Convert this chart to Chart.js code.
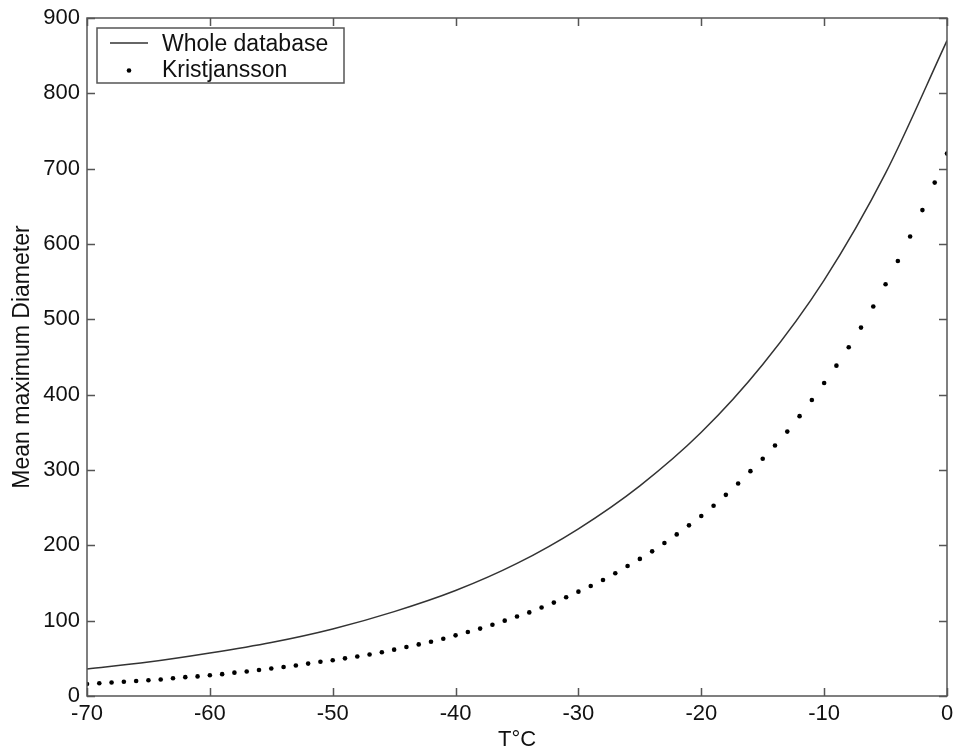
<!DOCTYPE html>
<html>
<head>
<meta charset="utf-8">
<title>Mean maximum Diameter vs T°C</title>
<script src="https://cdn.jsdelivr.net/npm/chart.js@4/dist/chart.umd.min.js"></script>
<style>
    html, body { margin: 0; padding: 0; background: #fff; }
    #wrap { width: 954px; height: 755px; }
</style>
</head>
<body>
<div id="wrap"><canvas id="diamChart" width="954" height="755"></canvas></div>
<script>
// Kristjansson parameterisation, one point per degree
const kristTemps = [
    -70, -69, -68, -67, -66, -65, -64, -63, -62, -61,
    -60, -59, -58, -57, -56, -55, -54, -53, -52, -51,
    -50, -49, -48, -47, -46, -45, -44, -43, -42, -41,
    -40, -39, -38, -37, -36, -35, -34, -33, -32, -31,
    -30, -29, -28, -27, -26, -25, -24, -23, -22, -21,
    -20, -19, -18, -17, -16, -15, -14, -13, -12, -11,
    -10, -9, -8, -7, -6, -5, -4, -3, -2, -1, 0
];
const kristDiam = [
    16, 17, 18, 19, 20, 21, 22, 23.5, 25, 26,
    27.5, 29, 31, 32.5, 34.5, 36.5, 38.5, 40.5, 43, 45.5,
    47.5, 50, 52.5, 55, 58, 61.5, 65, 68.5, 72, 76,
    80.5, 85, 89.5, 94.5, 100, 105.5, 111, 117.5, 124, 131,
    138.5, 146, 154, 163, 172.5, 182, 192, 203, 214.5, 226.5,
    239, 252.5, 267, 282, 298.5, 315, 332.5, 351, 371.5, 393,
    415.5, 438.5, 463, 489, 517, 546.5, 577.5, 610, 645, 681.5, 720
];

// fit to the whole database
const wholeTemps = [-70, -65, -60, -55, -50, -45, -40, -35, -30, -25, -20, -15, -10, -5, 0];
const wholeDiam = [36, 45, 57, 71, 89, 112, 140, 176, 222, 279, 350, 440, 552, 694, 870];

const xTicks = [-70, -60, -50, -40, -30, -20, -10, 0];
const yTicks = [0, 100, 200, 300, 400, 500, 600, 700, 800, 900];

const FONT = '"Liberation Sans", Arial, Helvetica, sans-serif';
const AXIS_COLOR = '#555';
const TICK_LEN = 8;

const toPoints = (xs, ys) => xs.map((x, i) => ({ x: x, y: ys[i] }));

// box around the plot with inward ticks on all four sides
const boxPlugin = {
    id: 'boxTicks',
    afterDatasetsDraw(chart) {
        const { ctx, chartArea: a, scales } = chart;
        ctx.save();
        ctx.strokeStyle = AXIS_COLOR;
        ctx.lineWidth = 1.5;
        ctx.beginPath();
        scales.x.ticks.forEach(t => {
            const px = Math.round(scales.x.getPixelForValue(t.value)) + 0.5;
            ctx.moveTo(px, a.bottom);
            ctx.lineTo(px, a.bottom - TICK_LEN);
            ctx.moveTo(px, a.top);
            ctx.lineTo(px, a.top + TICK_LEN);
        });
        scales.y.ticks.forEach(t => {
            const py = Math.round(scales.y.getPixelForValue(t.value)) + 0.5;
            ctx.moveTo(a.left, py);
            ctx.lineTo(a.left + TICK_LEN, py);
            ctx.moveTo(a.right, py);
            ctx.lineTo(a.right - TICK_LEN, py);
        });
        ctx.stroke();
        ctx.strokeRect(a.left, a.top, a.right - a.left, a.bottom - a.top);
        ctx.restore();
    }
};

// legend box in the upper left corner of the plot
const legendPlugin = {
    id: 'boxLegend',
    afterDraw(chart) {
        const ctx = chart.ctx;
        const ds = chart.data.datasets;
        const x0 = 97, y0 = 28, w = 247, h = 55;
        ctx.save();
        ctx.fillStyle = '#fff';
        ctx.fillRect(x0, y0, w, h);
        ctx.strokeStyle = AXIS_COLOR;
        ctx.lineWidth = 1.5;
        ctx.strokeRect(x0, y0, w, h);

        // line sample
        ctx.strokeStyle = ds[0].borderColor;
        ctx.lineWidth = ds[0].borderWidth;
        ctx.beginPath();
        ctx.moveTo(110, 43);
        ctx.lineTo(148, 43);
        ctx.stroke();

        // dot sample
        ctx.fillStyle = ds[1].pointBackgroundColor;
        ctx.beginPath();
        ctx.arc(129, 70.5, ds[1].pointRadius, 0, Math.PI * 2);
        ctx.fill();

        ctx.fillStyle = '#111';
        ctx.font = '23px ' + FONT;
        ctx.textBaseline = 'alphabetic';
        ctx.fillText(ds[0].label, 162, 50.5);
        ctx.fillText(ds[1].label, 162, 76.5);
        ctx.restore();
    }
};

function buildChart() {
    const ctx = document.getElementById('diamChart').getContext('2d');
    return new Chart(ctx, {
        type: 'scatter',
        data: {
            datasets: [{
                label: 'Whole database',
                data: toPoints(wholeTemps, wholeDiam),
                showLine: true,
                borderColor: '#333',
                borderWidth: 1.5,
                pointRadius: 0,
                cubicInterpolationMode: 'monotone',
                fill: false
            }, {
                label: 'Kristjansson',
                data: toPoints(kristTemps, kristDiam),
                showLine: false,
                pointRadius: 2.3,
                pointBackgroundColor: '#000',
                pointBorderWidth: 0
            }]
        },
        options: {
            responsive: false,
            animation: false,
            layout: { padding: { top: 18, right: 7, left: 0, bottom: 0 } },
            plugins: {
                legend: { display: false },
                tooltip: { enabled: false }
            },
            scales: {
                x: {
                    type: 'linear',
                    min: -70,
                    max: 0,
                    afterBuildTicks: s => { s.ticks = xTicks.map(v => ({ value: v })); },
                    afterFit: s => {
                        s.height = 59;
                        // let the end labels hang over the edges
                        s.paddingLeft = 0;
                        s.paddingRight = 0;
                    },
                    grid: { display: false, drawTicks: false },
                    border: { display: false },
                    ticks: {
                        padding: 5,
                        color: '#111',
                        font: { family: FONT, size: 22 },
                        maxRotation: 0,
                        autoSkip: false
                    },
                    title: {
                        display: true,
                        text: 'T°C',
                        color: '#111',
                        font: { family: FONT, size: 22 },
                        padding: { top: 0, bottom: 2 }
                    }
                },
                y: {
                    type: 'linear',
                    min: 0,
                    max: 900,
                    afterBuildTicks: s => { s.ticks = yTicks.map(v => ({ value: v })); },
                    afterFit: s => {
                        s.width = 87;
                        s.paddingTop = 0;
                        s.paddingBottom = 0;
                    },
                    grid: { display: false, drawTicks: false },
                    border: { display: false },
                    ticks: {
                        padding: 7,
                        color: '#111',
                        font: { family: FONT, size: 22 },
                        autoSkip: false
                    },
                    title: {
                        display: true,
                        text: 'Mean maximum Diameter',
                        color: '#111',
                        font: { family: FONT, size: 23 },
                        padding: { top: 9, bottom: 0 }
                    }
                }
            }
        },
        plugins: [boxPlugin, legendPlugin]
    });
}

buildChart();
</script>
</body>
</html>
